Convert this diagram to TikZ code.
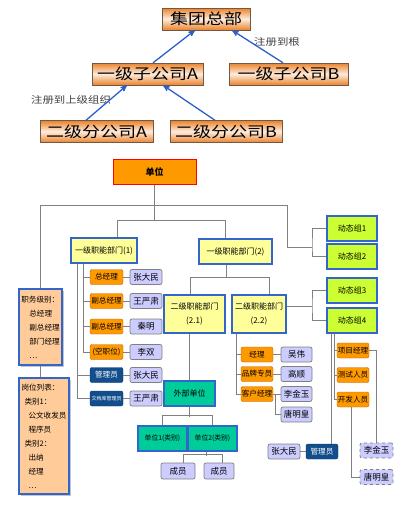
\documentclass[tikz,border=0pt]{standalone}
\usepackage{fontspec}
\usepackage{tikz}
\usetikzlibrary{arrows}
\usetikzlibrary{shadows}
\newfontfamily\cjk{Noto Sans CJK SC}
\newfontfamily\cjkwide[FakeStretch=1.2]{Noto Sans CJK SC}
\definecolor{toporange}{RGB}{236,130,40}
\definecolor{toplight}{RGB}{253,236,222}
\definecolor{topedge}{RGB}{110,90,70}
\definecolor{arrowblue}{RGB}{45,95,200}
\definecolor{orgorange}{RGB}{255,153,0}
\definecolor{orgorangedark}{RGB}{190,100,20}
\definecolor{orgyellow}{RGB}{255,255,153}
\definecolor{orgblue}{RGB}{51,102,204}
\definecolor{orglime}{RGB}{204,255,51}
\definecolor{orgteal}{RGB}{0,204,153}
\definecolor{orglav}{RGB}{204,204,255}
\definecolor{orgnavy}{RGB}{18,78,140}
\definecolor{orgpeach}{RGB}{255,204,153}
\definecolor{orglink}{RGB}{128,128,128}
\tikzset{
	orgnode/.style = {
		align=center,
		inner sep=0pt,
		text centered,
		font=\cjk\fontsize{8}{9.5}\selectfont
	},
	node_top/.style = {
		orgnode,
		rectangle,
		draw=topedge,
		top color=toporange,
		bottom color=toporange,
		middle color=toplight,
		font=\cjkwide\fontsize{15}{18}\selectfont,
		minimum height=22pt
	},
	note_text/.style = {
		orgnode,
		text=black!75,
		font=\cjkwide\fontsize{9.5}{11}\selectfont
	},
	arrow_reg/.style = {
		->,
		>=stealth',
		draw=arrowblue,
		line width=1.3pt
	},
	node_unit/.style = {
		orgnode,
		rectangle,
		fill=orgorange,
		draw=red,
		line width=1pt,
		font=\cjk\bfseries\fontsize{9}{10}\selectfont,
		minimum width=83pt,
		minimum height=25pt
	},
	node_dept/.style = {
		orgnode,
		rectangle,
		fill=orgyellow,
		draw=orgblue,
		line width=1.2pt,
		minimum height=25pt
	},
	node_dyn/.style = {
		node_dept,
		fill=orglime,
		minimum width=50pt
	},
	node_ext/.style = {
		node_dept,
		fill=orgteal
	},
	node_role/.style = {
		orgnode,
		rectangle,
		rounded corners=2pt,
		fill=orgorange,
		draw=orgorangedark,
		font=\cjk\fontsize{7.6}{9}\selectfont,
		minimum width=33pt,
		minimum height=15pt
	},
	node_admin/.style = {
		node_role,
		fill=orgnavy,
		draw=orgnavy!70!black,
		text=white
	},
	node_person/.style = {
		orgnode,
		rectangle,
		rounded corners=2pt,
		fill=orglav,
		draw=orglink,
		line width=0.7pt,
		font=\cjk\fontsize{8.5}{10}\selectfont,
		minimum width=32pt,
		minimum height=15pt
	},
	node_person_tbd/.style = {
		node_person,
		dashed
	},
	node_note/.style = {
		orgnode,
		rectangle,
		align=left,
		fill=orgpeach,
		draw=orgblue,
		line width=1.2pt,
		drop shadow={shadow xshift=1.5pt, shadow yshift=-1.5pt, fill=black!45},
		font=\cjk\fontsize{7.6}{14}\selectfont
	},
	edge_org/.style = {
		draw=orglink,
		line width=0.8pt
	}
}

\begin{document}
\begin{tikzpicture}[x=1pt, y=-1pt]
\useasboundingbox[fill=white] (0,0) rectangle (415,506);

% registration hierarchy
\node [node_top, minimum width=88pt] (hq) at (206,19) {集团总部};
\node [node_top, minimum width=111pt] (subA) at (147.5,74) {一级子公司A};
\node [node_top, minimum width=119pt] (subB) at (288.5,74) {一级子公司B};
\node [node_top, minimum width=113pt] (brA) at (96.5,131.5) {二级分公司A};
\node [node_top, minimum width=112pt] (brB) at (226,131.5) {二级分公司B};
\node [note_text] (regroot) at (277,42) {注册到根};
\node [note_text] (regup) at (71,100) {注册到上级组织};

\draw [arrow_reg] ([xshift=5.5pt]subA.north) -- ([xshift=-11pt]hq.south);
\draw [arrow_reg] ([xshift=-5.5pt]subB.north) -- ([xshift=26pt]hq.south);
\draw [arrow_reg] ([xshift=-10.5pt]brA.north) -- ([xshift=-20.5pt]subA.south);
\draw [arrow_reg] ([xshift=-11pt]brB.north) -- ([xshift=15.5pt]subA.south);

% organisation chart
\node [node_unit] (unit) at (154.5,171.5) {单位};
\node [node_dept, minimum width=66pt] (dept1) at (104,250.5) {一级职能部门(1)};
\node [node_dept, minimum width=73pt] (dept2) at (235.5,251.5) {一级职能部门(2)};
\node [node_dept, minimum width=61pt, minimum height=38pt] (dept21) at (194.5,314) {二级职能部门\\[5pt](2.1)};
\node [node_dept, minimum width=54pt, minimum height=38pt] (dept22) at (259,314) {二级职能部门\\[5pt](2.2)};
\node [node_dyn] (dyn1) at (352,228.5) {动态组1};
\node [node_dyn] (dyn2) at (352,256.5) {动态组2};
\node [node_dyn] (dyn3) at (352,290.5) {动态组3};
\node [node_dyn] (dyn4) at (352,320.5) {动态组4};
\node [node_ext, minimum width=51pt] (ext) at (189.5,393.5) {外部单位};
\node [node_ext, minimum width=49pt, font=\cjk\fontsize{6.8}{8}\selectfont] (u1) at (162.5,438.5) {单位1(类别)};
\node [node_ext, minimum width=49pt, font=\cjk\fontsize{6.8}{8}\selectfont] (u2) at (212.5,438.5) {单位2(类别)};
\node [node_person, minimum width=34pt, minimum height=16pt] (m1) at (178,471) {成员};
\node [node_person, minimum width=30pt, minimum height=16pt] (m2) at (219,471) {成员};

\node [node_note, minimum width=43pt, minimum height=76pt] (rank) at (40.5,327)
	{职务级别：\\ \hspace*{8pt}总经理\\ \hspace*{8pt}副总经理\\ \hspace*{8pt}部门经理\\ \hspace*{8pt}…};
\node [node_note, minimum width=50pt, minimum height=116pt] (post) at (44,436)
	{岗位列表：\\ \hspace*{3pt}类别1：\\ \hspace*{7pt}公文收发员\\ \hspace*{7pt}程序员\\ \hspace*{3pt}类别2：\\ \hspace*{7pt}出纳\\ \hspace*{7pt}经理\\ \hspace*{7pt}…};

% staff of dept (1)
\node [node_role] (gm) at (106.5,277) {总经理};
\node [node_role] (vgm_a) at (106.5,301) {副总经理};
\node [node_role] (vgm_b) at (106.5,326.5) {副总经理};
\node [node_role] (vacant) at (106.5,352) {(空职位)};
\node [node_admin] (admin_a) at (106.5,375) {管理员};
\node [node_admin, font=\cjk\fontsize{5}{6}\selectfont] (archivist) at (106.5,398.5) {文档库管理员};
\node [node_person] (zdm_a) at (146,277) {张大民};
\node [node_person] (wys_a) at (146,301) {王严肃};
\node [node_person] (qm) at (146,326.5) {秦明};
\node [node_person] (ls) at (146,352) {李双};
\node [node_person] (zdm_b) at (146,375) {张大民};
\node [node_person] (wys_b) at (146,398.5) {王严肃};

% staff of dept (2.2)
\node [node_role, minimum width=32pt] (mgr) at (257,354.5) {经理};
\node [node_role, minimum width=32pt] (brand) at (257,374) {品牌专员};
\node [node_role, minimum width=32pt] (acct) at (257,394) {客户经理};
\node [node_person, minimum width=31pt] (ww) at (296.5,354.5) {吴伟};
\node [node_person, minimum width=31pt] (gs) at (296.5,374) {高顺};
\node [node_person, minimum width=31pt] (ljy_a) at (296.5,394) {李金玉};
\node [node_person, minimum width=31pt] (tmh_a) at (296.5,414.5) {唐明皇};

% staff of dynamic group 4
\node [node_role, minimum width=32pt] (pm) at (353,350.5) {项目经理};
\node [node_role, minimum width=32pt] (tester) at (353,375) {测试人员};
\node [node_role, minimum width=32pt] (dev) at (353,399.5) {开发人员};
\node [node_admin, minimum width=32pt] (admin_b) at (322,451.5) {管理员};
\node [node_person] (zdm_c) at (284,451.5) {张大民};
\node [node_person_tbd, minimum width=33pt] (ljy_b) at (376.5,450.5) {李金玉};
\node [node_person_tbd, minimum width=33pt] (tmh_b) at (376.5,477) {唐明皇};

% connectors
\coordinate (bus_top) at (287,205);
\coordinate (bus_dyn12) at (312,247);
\coordinate (bus_dyn34) at (312,306);
\coordinate (bus_dept) at (0,221);

\draw [edge_org] (unit.south) -- (unit.south |- bus_dept);
\draw [edge_org] ([xshift=13pt]dept1.north) -- ++(0,-17) -| ([xshift=-10.5pt]dept2.north);
\draw [edge_org] (rank.north) |- (bus_top) |- (bus_dyn12);
\draw [edge_org] (dyn1.west) -| (bus_dyn12) |- (dyn2.west);
\draw [edge_org] (dept22.east |- bus_dyn34) -- (bus_dyn34);
\draw [edge_org] (dyn3.west) -| (bus_dyn34) |- (dyn4.west);
\draw [edge_org] (rank.south) -- (rank.south |- post.north);

\draw [edge_org] ([xshift=-9.5pt]dept2.south) -- ++(0,13.5);
\draw [edge_org] ([xshift=-4.5pt]dept21.north) -- ++(0,-17.5) -| ([xshift=10pt]dept22.north);
\draw [edge_org] (ext.north) -- (ext.north |- dept21.south);
\draw [edge_org] (ext.south) -- ++(0,10);
\draw [edge_org] (u1.north) -- ++(0,-10) -| (u2.north);
\draw [edge_org] ([xshift=-6.5pt]u2.south) -- ++(0,4);
\draw [edge_org] ([xshift=5pt]m1.north) -- ++(0,-8) -| ([xshift=3pt]m2.north);

\draw [edge_org] ([xshift=-27pt]dept1.south) |- (admin_a.west);
\draw [edge_org] ([xshift=-27pt]dept1.south) |- (archivist.west);
\draw [edge_org] ([xshift=-21pt]dept1.south) |- (gm.west);
\draw [edge_org] ([xshift=-21pt]dept1.south) |- (vgm_a.west);
\draw [edge_org] ([xshift=-21pt]dept1.south) |- (vgm_b.west);
\draw [edge_org] ([xshift=-21pt]dept1.south) |- (vacant.west);
\draw [edge_org] (gm) -- (zdm_a);
\draw [edge_org] (vgm_a) -- (wys_a);
\draw [edge_org] (vgm_b) -- (qm);
\draw [edge_org] (vacant) -- (ls);
\draw [edge_org] (admin_a) -- (zdm_b);
\draw [edge_org] (archivist) -- (wys_b);

\draw [edge_org] ([xshift=-23pt]dept22.south) |- (mgr.west);
\draw [edge_org] ([xshift=-23pt]dept22.south) |- (brand.west);
\draw [edge_org] ([xshift=-23pt]dept22.south) |- (acct.west);
\draw [edge_org] (mgr) -- (ww);
\draw [edge_org] (brand) -- (gs);
\draw [edge_org] (acct) -- (ljy_a);
\draw [edge_org] ([xshift=2pt]acct.east) |- (tmh_a.west);

\draw [edge_org] ([xshift=-21pt]dyn4.south) -- ([xshift=9pt]admin_b.north);
\draw [edge_org] ([xshift=-18pt]dyn4.south) |- (pm.west);
\draw [edge_org] ([xshift=-18pt]dyn4.south) |- (tester.west);
\draw [edge_org] ([xshift=-18pt]dyn4.south) |- (dev.west);
\draw [edge_org] (zdm_c) -- (admin_b);
\draw [edge_org] (pm.east) -| (ljy_b.north);
\draw [edge_org] ([xshift=-2pt]dev.south) |- (tmh_b.west);
\end{tikzpicture}
\end{document}
